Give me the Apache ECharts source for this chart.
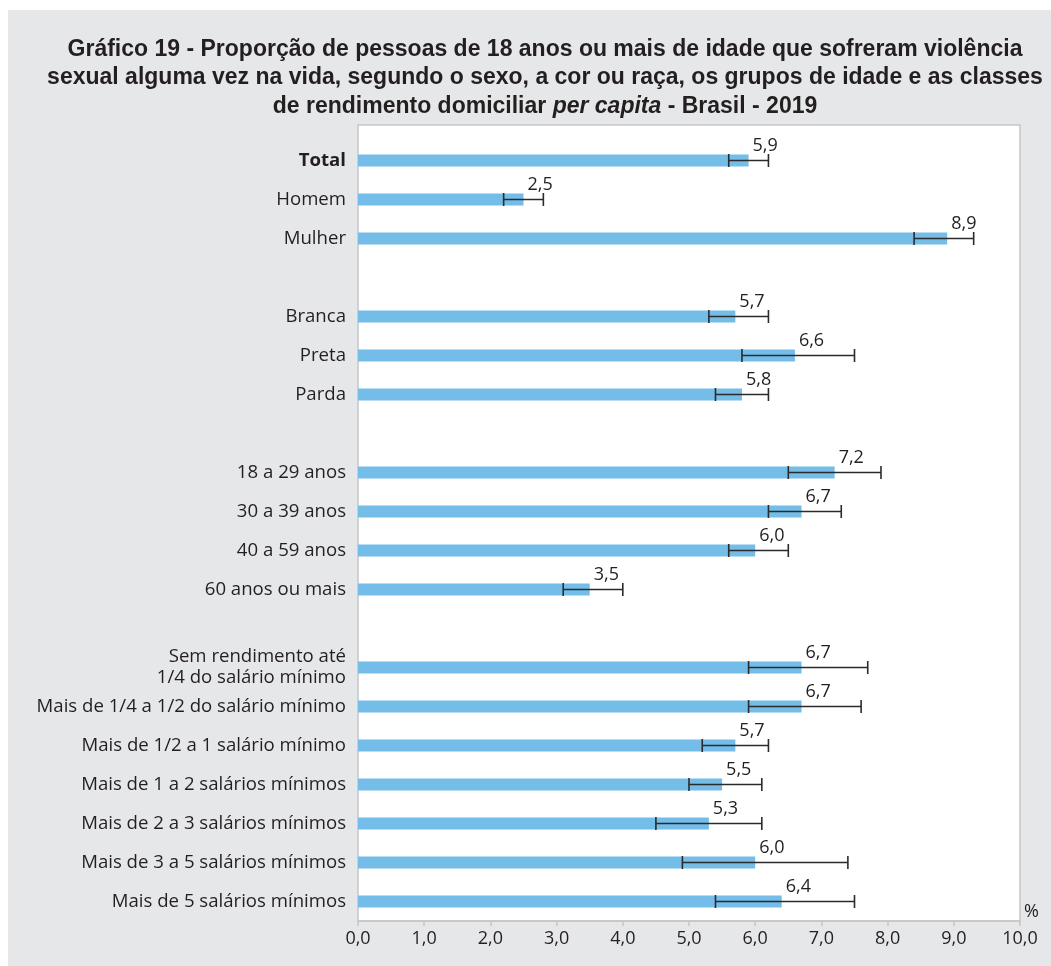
<!DOCTYPE html>
<html>
<head>
<meta charset="utf-8">
<script src="https://cdn.jsdelivr.net/npm/echarts@6/dist/echarts.min.js"></script>
<style>
  html, body { margin: 0; padding: 0; background: #ffffff; }
  #chart { width: 1051px; height: 966px; }
</style>
</head>
<body>
<div id="chart"></div>
<script>
// Groups are separated by blank rows (whitespace-only category names).
const categories = [
  'Total', 'Homem', 'Mulher', ' ',
  'Branca', 'Preta', 'Parda', '  ',
  '18 a 29 anos', '30 a 39 anos', '40 a 59 anos', '60 anos ou mais', '   ',
  'Sem rendimento até\n1/4 do salário mínimo',
  'Mais de 1/4 a 1/2 do salário mínimo',
  'Mais de 1/2 a 1 salário mínimo',
  'Mais de 1 a 2 salários mínimos',
  'Mais de 2 a 3 salários mínimos',
  'Mais de 3 a 5 salários mínimos',
  'Mais de 5 salários mínimos'
];

// Proportion (%)
const values = [
  5.9, 2.5, 8.9, null,
  5.7, 6.6, 5.8, null,
  7.2, 6.7, 6.0, 3.5, null,
  6.7, 6.7, 5.7, 5.5, 5.3, 6.0, 6.4
];

// 95% confidence interval bounds (%)
const lowerCI = [
  5.6, 2.2, 8.4, null,
  5.3, 5.8, 5.4, null,
  6.5, 6.2, 5.6, 3.1, null,
  5.9, 5.9, 5.2, 5.0, 4.5, 4.9, 5.4
];
const upperCI = [
  6.2, 2.8, 9.3, null,
  6.2, 7.5, 6.2, null,
  7.9, 7.3, 6.5, 4.0, null,
  7.7, 7.6, 6.2, 6.1, 6.1, 7.4, 7.5
];

const xTicks = { min: 0, max: 10, interval: 1 };

const TEXT = '#231f20';
const TITLE_FONT = '"Liberation Sans", Arial, Helvetica, sans-serif';
const FONT = '"Open Sans", "Liberation Sans", Arial, sans-serif';

const ciData = [];
for (let i = 0; i < categories.length; i++) {
  if (lowerCI[i] != null) ciData.push([i, lowerCI[i], upperCI[i]]);
}

const fmt = v => v.toFixed(1).replace('.', ',');

const chart = echarts.init(document.getElementById('chart'), null, { renderer: 'canvas' });

chart.setOption({
  animation: false,
  textStyle: { fontFamily: FONT },
  title: {
    text: 'Gráfico 19 - Proporção de pessoas de 18 anos ou mais de idade que sofreram violência\n' +
          'sexual alguma vez na vida, segundo o sexo, a cor ou raça, os grupos de idade e as classes\n' +
          'de rendimento domiciliar {i|per capita} - Brasil - 2019',
    left: 540,
    top: 30,
    textAlign: 'center',
    textStyle: {
      fontFamily: TITLE_FONT,
      fontSize: 23,
      fontWeight: 'bold',
      color: TEXT,
      lineHeight: 28.5,
      rich: {
        i: { fontFamily: TITLE_FONT, fontSize: 23, fontWeight: 'bold', fontStyle: 'italic', color: TEXT, lineHeight: 28.5 }
      }
    }
  },
  graphic: [
    {
      type: 'rect', z: -10, silent: true,
      shape: { x: 8, y: 10, width: 1043, height: 956 },
      style: { fill: '#e6e7e8' }
    },
    {
      type: 'rect', z: -9, silent: true,
      shape: { x: 358, y: 125, width: 662, height: 796 },
      style: { fill: '#ffffff', stroke: '#c6c6c6', lineWidth: 1.5 }
    }
  ],
  grid: { left: 358, right: 31, top: 141, bottom: 45, containLabel: false },
  xAxis: {
    type: 'value',
    min: xTicks.min,
    max: xTicks.max,
    interval: xTicks.interval,
    name: '%',
    nameLocation: 'end',
    nameGap: 4,
    nameTextStyle: { fontFamily: FONT, fontSize: 18, color: TEXT, align: 'left', verticalAlign: 'bottom' },
    axisLine: { show: true, lineStyle: { color: '#c6c6c6', width: 1.5 } },
    axisTick: { show: true, inside: false, length: 5, lineStyle: { color: '#c6c6c6', width: 1.5 } },
    axisLabel: { margin: 9, fontFamily: FONT, fontSize: 18, color: TEXT, formatter: v => fmt(v) },
    splitLine: { show: false }
  },
  yAxis: {
    type: 'category',
    data: categories,
    inverse: true,
    axisLine: { show: false },
    axisTick: { show: false },
    axisLabel: {
      margin: 12,
      fontFamily: FONT,
      fontSize: 18.6,
      color: TEXT,
      lineHeight: 21,
      align: 'right',
      formatter: v => v === 'Total' ? '{b|Total}' : v,
      rich: { b: { fontFamily: FONT, fontSize: 18.6, fontWeight: 'bold', color: TEXT } }
    }
  },
  series: [
    {
      type: 'bar',
      data: values,
      barWidth: 12,
      itemStyle: { color: '#74bde8' },
      label: {
        show: true,
        position: 'right',
        distance: 4,
        offset: [0, -15],
        fontFamily: FONT,
        fontSize: 18,
        color: TEXT,
        formatter: p => fmt(p.value)
      },
      z: 2
    },
    {
      type: 'custom',
      data: ciData,
      z: 3,
      renderItem: (params, api) => {
        const idx = api.value(0);
        const p1 = api.coord([api.value(1), idx]);
        const p2 = api.coord([api.value(2), idx]);
        const h = 6.5;
        const style = { stroke: '#2b2b2b', lineWidth: 1.6 };
        return {
          type: 'group',
          children: [
            { type: 'line', shape: { x1: p1[0], y1: p1[1], x2: p2[0], y2: p2[1] }, style },
            { type: 'line', shape: { x1: p1[0], y1: p1[1] - h, x2: p1[0], y2: p1[1] + h }, style },
            { type: 'line', shape: { x1: p2[0], y1: p2[1] - h, x2: p2[0], y2: p2[1] + h }, style }
          ]
        };
      },
      encode: { x: [1, 2], y: 0 }
    }
  ]
});
</script>
</body>
</html>
